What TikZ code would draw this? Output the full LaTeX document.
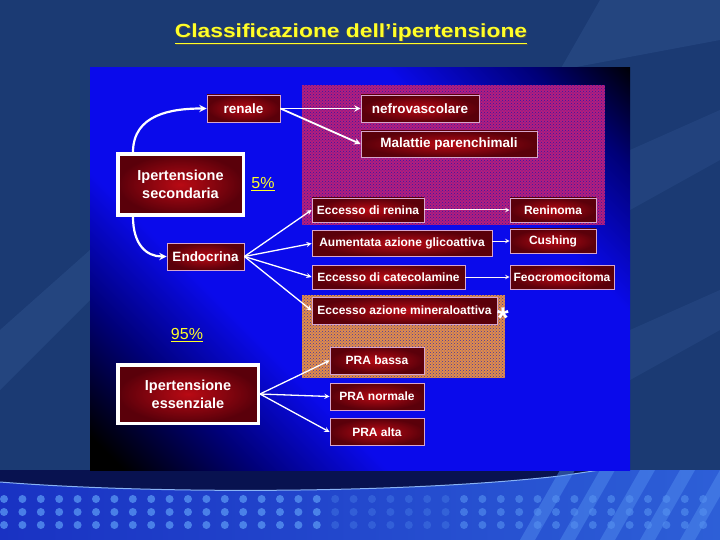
\documentclass[tikz,border=0pt]{standalone}
\usepackage{fontspec}
\setmainfont{Liberation Sans}
\usepackage{tikz}
\usetikzlibrary{arrows, patterns, positioning}
\definecolor{bgblue}{RGB}{27,58,115}
\definecolor{bglight}{RGB}{45,80,140}
\definecolor{pblue}{RGB}{10,10,235}
\definecolor{pmid}{RGB}{0,0,120}
\definecolor{boxred}{RGB}{185,10,20}
\definecolor{boxdark}{RGB}{90,0,10}
\definecolor{boxline}{RGB}{215,165,205}
\definecolor{titleyel}{RGB}{255,255,40}
\definecolor{purplebase}{RGB}{180,30,125}
\definecolor{purpledot}{RGB}{50,25,165}
\definecolor{orangebase}{RGB}{225,140,75}
\definecolor{orangedot}{RGB}{70,55,160}
\definecolor{stripl}{RGB}{25,50,195}
\definecolor{stripr}{RGB}{45,95,215}
\definecolor{stripdark}{RGB}{8,18,80}
\definecolor{dotblue}{RGB}{85,145,240}
\pgfdeclarehorizontalshading{panelshade}{100bp}{color(0bp)=(black); color(17bp)=(black); color(27bp)=(pmid); color(37bp)=(pblue); color(67bp)=(pblue); color(78bp)=(pmid); color(86bp)=(black); color(100bp)=(black)}
\tikzstyle{redbox} = [rectangle, draw = boxline, line width=0.8pt, shade, inner color=boxred, outer color=boxdark, text=white, font=\bfseries\fontsize{12}{15}\selectfont, inner sep=0pt]
\tikzstyle{redboxtop} = [redbox, font=\bfseries\fontsize{13.5}{16}\selectfont]
\tikzstyle{bigbox} = [rectangle, draw = white, line width=3.5pt, shade, inner color=boxred, outer color=boxdark, text=white, align=center, font=\bfseries\fontsize{14.5}{18}\selectfont, inner sep=0pt]
\tikzstyle{pct} = [text=titleyel, font=\fontsize{16}{18}\selectfont, inner sep=0pt]
\tikzstyle{arrowthick} = [->,>=stealth, white, line width=2.2pt]
\tikzstyle{arrowmid} = [->,>=stealth, white, line width=1.8pt]
\tikzstyle{arrowthin} = [->,>=stealth, white, line width=1.3pt]
\tikzstyle{arrowfine} = [->,>=stealth, white!85!pink, line width=1pt]
\begin{document}
\begin{tikzpicture}[x=1pt, y=-1pt]
\useasboundingbox (0,0) rectangle (720,540);
% slide background
\fill[bgblue] (0,0) rectangle (720,540);
\fill[bglight, opacity=0.5] (600,0) -- (720,0) -- (720,40) -- (560,70) -- cycle;
\fill[bglight, opacity=0.4] (630,150) -- (720,110) -- (720,160) -- (630,210) -- cycle;
\fill[bglight, opacity=0.4] (630,330) -- (720,290) -- (720,330) -- (630,380) -- cycle;
\fill[bglight, opacity=0.5] (0,330) -- (90,250) -- (90,300) -- (0,390) -- cycle;
% bottom strip
\shade[left color=stripl, right color=stripr] (0,470) rectangle (720,540);
\fill[stripdark] (0,470) -- (600,470) -- (560,476) .. controls (400,494) and (150,494) .. (0,482) -- cycle;
\draw[dotblue!70!white, line width=1pt] (0,482) .. controls (150,494) and (400,494) .. (560,476) -- (600,470);
\foreach \s in {0,...,4}
  \fill[dotblue, opacity=0.45] (520+40*\s,540) -- (560+40*\s,470) -- (575+40*\s,470) -- (535+40*\s,540) -- cycle;
\foreach \i in {0,...,17}
  \foreach \r in {499,512,525}
    \fill[dotblue, opacity=0.8] (4+18.4*\i,\r) circle[radius=4pt];
\foreach \i in {18,...,24}
  \foreach \r in {499,512,525}
    \fill[dotblue, opacity=0.3] (4+18.4*\i,\r) circle[radius=4pt];
\foreach \i in {25,...,38}
  \foreach \r in {499,512,525}
    \fill[dotblue, opacity=0.6] (4+18.4*\i,\r) circle[radius=4pt];
% panel
\shade[shading=panelshade, shading angle=45] (90,68) rectangle (630,470);
\fill[purplebase] (302,85) rectangle (605,225);
\fill[pattern=crosshatch dots, pattern color=purpledot] (302,85) rectangle (605,225);
\fill[orangebase] (302,295) rectangle (505,378);
\fill[pattern=crosshatch dots, pattern color=orangedot] (302,295) rectangle (505,378);
% title
\node[text=black!70, font=\bfseries\fontsize{19}{22}\selectfont] at (352,35) {\scalebox{1.2}[1]{\underline{Classificazione dell’ipertensione}}};
\node[text=titleyel, font=\bfseries\fontsize{19}{22}\selectfont] (title) at (351,34) {\scalebox{1.2}[1]{\underline{Classificazione dell’ipertensione}}};
% boxes
\node[bigbox, minimum width=125.5pt, minimum height=61pt] (sec) at (180.5,184.5) {Ipertensione\\secondaria};
\node[pct] (p5) at (263,184) {\underline{5\%}};
\node[redboxtop, minimum width=73pt, minimum height=27pt] (renale) at (243.5,108.5) {renale};
\node[redboxtop, minimum width=118pt, minimum height=27pt] (nefro) at (420,108.5) {nefrovascolare};
\node[redboxtop, minimum width=176pt, minimum height=26pt] (malattie) at (449,144) {Malattie parenchimali};
\node[redboxtop, minimum width=77pt, minimum height=27pt] (endo) at (205.5,256.5) {Endocrina};
\node[redbox, minimum width=112pt, minimum height=24pt] (renina) at (368,210) {Eccesso di renina};
\node[redbox, minimum width=86pt, minimum height=24pt] (reninoma) at (553,210) {Reninoma};
\node[redbox, minimum width=180pt, minimum height=26pt] (aum) at (402,243.5) {Aumentata azione glicoattiva};
\node[redbox, minimum width=86pt, minimum height=24pt] (cushing) at (553,241) {Cushing};
\node[redbox, minimum width=153pt, minimum height=24pt] (cate) at (388.5,277) {Eccesso di catecolamine};
\node[redbox, minimum width=104pt, minimum height=24pt] (feo) at (562,277) {Feocromocitoma};
\node[redbox, minimum width=185pt, minimum height=27pt] (mineral) at (404.5,310.5) {Eccesso azione mineraloattiva};
\node[text=white, font=\bfseries\fontsize{30}{32}\selectfont, inner sep=0pt, anchor=base] (ast) at (503,328) {*};
\node[pct] (p95) at (187,335) {\underline{95\%}};
\node[bigbox, minimum width=140.5pt, minimum height=58.5pt] (ess) at (188,394) {Ipertensione\\essenziale};
\node[redbox, minimum width=94pt, minimum height=27pt] (bassa) at (377,360.5) {PRA bassa};
\node[redbox, minimum width=94pt, minimum height=27pt] (normale) at (377,396.5) {PRA normale};
\node[redbox, minimum width=94pt, minimum height=27pt] (alta) at (377,432) {PRA alta};
% connectors
\draw[arrowthick] ([xshift=17pt]sec.north west) .. controls +(0,-38) and +(-35,0) .. (renale.west);
\draw[arrowthick] ([xshift=17pt]sec.south west) .. controls +(0,28) and +(-20,0) .. (endo.west);
\draw[arrowmid] (renale.east) -- (nefro.west);
\draw[arrowmid] (renale.east) -- (malattie.west);
\foreach \t in {renina, aum, cate, mineral}
  \draw[arrowthin] (endo.east) -- (\t.west);
\draw[arrowfine] (renina.east) -- (reninoma.west);
\draw[arrowfine] (aum.east |- cushing.west) -- (cushing.west);
\draw[arrowfine] (cate.east) -- (feo.west);
\foreach \t in {bassa, normale, alta}
  \draw[arrowthin] (ess.east) -- (\t.west);
\end{tikzpicture}
\end{document}
